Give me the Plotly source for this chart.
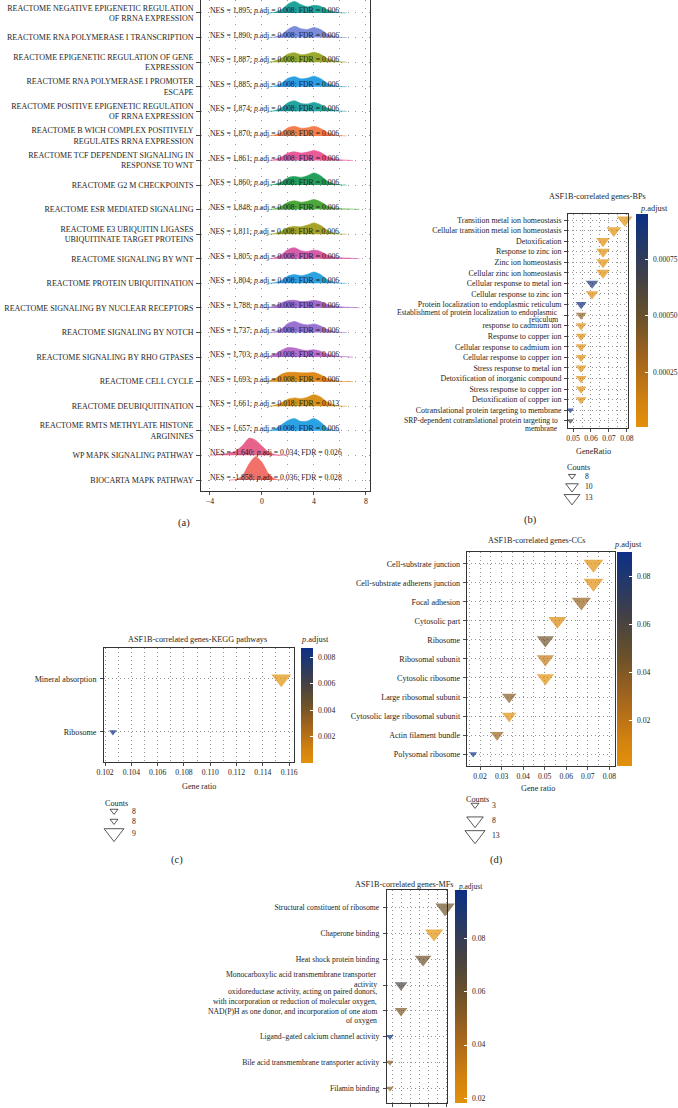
import math
import plotly.graph_objects as go

W, H = 678, 1108
FONT = "Liberation Serif"
INK = "#1e1e1e"
GRID = "#7a7a7a"
FS = 7.7


def fx(px):
    return px / W


def fy(py):
    return 1 - py / H


# ---------------- (a) GSEA ridge plot ----------------
a_terms = [
    "REACTOME NEGATIVE EPIGENETIC REGULATION<br>OF RRNA EXPRESSION",
    "REACTOME RNA POLYMERASE I TRANSCRIPTION",
    "REACTOME EPIGENETIC REGULATION OF GENE<br>EXPRESSION",
    "REACTOME RNA POLYMERASE I PROMOTER<br>ESCAPE",
    "REACTOME POSITIVE EPIGENETIC REGULATION<br>OF RRNA EXPRESSION",
    "REACTOME B WICH COMPLEX POSITIVELY<br>REGULATES RRNA EXPRESSION",
    "REACTOME TCF DEPENDENT SIGNALING IN<br>RESPONSE TO WNT",
    "REACTOME G2 M CHECKPOINTS",
    "REACTOME ESR MEDIATED SIGNALING",
    "REACTOME E3 UBIQUITIN LIGASES<br>UBIQUITINATE TARGET PROTEINS",
    "REACTOME SIGNALING BY WNT",
    "REACTOME PROTEIN UBIQUITINATION",
    "REACTOME SIGNALING BY NUCLEAR RECEPTORS",
    "REACTOME SIGNALING BY NOTCH",
    "REACTOME SIGNALING BY RHO GTPASES",
    "REACTOME CELL CYCLE",
    "REACTOME DEUBIQUITINATION",
    "REACTOME RMTS METHYLATE HISTONE<br>ARGININES",
    "WP MAPK SIGNALING PATHWAY",
    "BIOCARTA MAPK PATHWAY",
]
a_nes = ["1,895", "1,890", "1,887", "1,885", "1,874", "1,870", "1,861", "1,860",
         "1,848", "1,811", "1,805", "1,804", "1,788", "1,737", "1,703", "1,693",
         "1,661", "1,657", "-1.640", "-1.858"]
a_padj = ["0.008"] * 16 + ["0.018", "0.008", "0.034", "0.036"]
a_fdr = ["0.006"] * 16 + ["0.013", "0.006", "0.026", "0.028"]
a_colors = ["#1FA39B", "#7C8CD8", "#9BAA2E", "#2C9FE3", "#22A59E", "#F47F4C",
            "#EA5B9A", "#22A05C", "#4CA83A", "#A7A228", "#D65CA8", "#2DA2E0",
            "#A26BCB", "#9A72D0", "#B86CCB", "#E08A1C", "#D8921C", "#2BA3E2",
            "#E8638C", "#F1716A"]
a_grid = [-4.0, -3.5, -3.0, -2.5, -2.0, -1.5, -1.0, -0.5, 0.0, 0.5, 1.0, 1.5,
          2.0, 2.5, 3.0, 3.5, 4.0, 4.5, 5.0, 5.5, 6.0, 6.5, 7.0, 7.5]
Z9 = [0] * 9
a_heights = [
    Z9 + [0, 0.03, 0.14, 0.36, 0.47, 0.34, 0.25, 0.31, 0.27, 0.14, 0.05, 0.01, 0, 0, 0],
    Z9 + [0, 0.02, 0.12, 0.33, 0.46, 0.36, 0.33, 0.41, 0.33, 0.16, 0.05, 0.01, 0, 0, 0],
    Z9 + [0, 0.05, 0.16, 0.33, 0.38, 0.30, 0.33, 0.40, 0.32, 0.16, 0.06, 0.02, 0, 0, 0],
    Z9 + [0, 0.03, 0.14, 0.34, 0.41, 0.32, 0.35, 0.43, 0.33, 0.15, 0.05, 0.01, 0, 0, 0],
    Z9 + [0, 0.03, 0.14, 0.35, 0.43, 0.32, 0.30, 0.36, 0.28, 0.14, 0.05, 0.01, 0, 0, 0],
    Z9 + [0, 0.04, 0.15, 0.33, 0.39, 0.31, 0.33, 0.39, 0.30, 0.15, 0.05, 0.01, 0, 0, 0],
    Z9 + [0, 0.04, 0.14, 0.30, 0.35, 0.30, 0.34, 0.41, 0.33, 0.17, 0.07, 0.03, 0.01, 0, 0],
    Z9 + [0, 0.03, 0.12, 0.30, 0.35, 0.31, 0.38, 0.49, 0.38, 0.17, 0.05, 0.01, 0, 0, 0],
    Z9 + [0, 0.04, 0.14, 0.30, 0.36, 0.30, 0.34, 0.41, 0.32, 0.16, 0.07, 0.04, 0.03, 0.02, 0.01],
    Z9 + [0, 0.03, 0.12, 0.27, 0.31, 0.30, 0.37, 0.46, 0.36, 0.17, 0.05, 0.01, 0, 0, 0],
    Z9 + [0, 0.04, 0.17, 0.38, 0.45, 0.33, 0.30, 0.36, 0.30, 0.16, 0.07, 0.04, 0.03, 0.02, 0],
    Z9 + [0, 0.03, 0.12, 0.30, 0.36, 0.31, 0.37, 0.46, 0.36, 0.16, 0.05, 0.01, 0, 0, 0],
    Z9 + [0.02, 0.08, 0.20, 0.30, 0.31, 0.26, 0.27, 0.31, 0.26, 0.15, 0.08, 0.05, 0.03, 0.02, 0.01],
    Z9 + [0, 0.03, 0.15, 0.37, 0.45, 0.36, 0.31, 0.35, 0.27, 0.13, 0.04, 0.01, 0, 0, 0],
    Z9 + [0.03, 0.12, 0.28, 0.39, 0.37, 0.30, 0.27, 0.30, 0.24, 0.13, 0.06, 0.02, 0.01, 0, 0],
    Z9 + [0.03, 0.12, 0.30, 0.38, 0.38, 0.36, 0.36, 0.37, 0.28, 0.14, 0.06, 0.02, 0.01, 0, 0],
    Z9 + [0, 0.04, 0.14, 0.29, 0.34, 0.31, 0.37, 0.47, 0.38, 0.18, 0.06, 0.01, 0, 0, 0],
    Z9 + [0.01, 0.08, 0.25, 0.42, 0.50, 0.38, 0.40, 0.50, 0.36, 0.12, 0.02, 0, 0, 0, 0],
    [0.01, 0.03, 0.06, 0.10, 0.19, 0.40, 0.70, 0.62, 0.38, 0.14, 0.04, 0.01] + [0] * 12,
    [0, 0, 0, 0, 0.02, 0.18, 0.65, 0.95, 0.72, 0.26, 0.04, 0] + [0] * 12,
]

# ---------------- (b) BP ----------------
b_terms = [
    "Transition metal ion homeostasis",
    "Cellular transition metal ion homeostasis",
    "Detoxification",
    "Response to zinc ion",
    "Zinc ion homeostasis",
    "Cellular zinc ion homeostasis",
    "Cellular response to metal ion",
    "Cellular response to zinc ion",
    "Protein localization to endoplasmic reticulum",
    "Establishment of protein localization to endoplasmic<br>reticulum",
    "response to cadmium ion",
    "Response to copper ion",
    "Cellular response to cadmium ion",
    "Cellular response to copper ion",
    "Stress response to metal ion",
    "Detoxification of inorganic compound",
    "Stress response to copper ion",
    "Detoxification of copper ion",
    "Cotranslational protein targeting to membrane",
    "SRP-dependent cotranslational protein targeting to<br>membrane",
]
b_ratio = [0.0788, 0.0727, 0.0667, 0.0667, 0.0667, 0.0667, 0.0606, 0.0606,
           0.0545, 0.0545, 0.0545, 0.0545, 0.0545, 0.0545, 0.0545, 0.0545,
           0.0545, 0.0545, 0.0485, 0.0485]
b_count = [13, 12, 11, 11, 11, 11, 10, 10, 9, 9, 9, 9, 9, 9, 9, 9, 9, 9, 8, 8]
b_padj = [0.00001, 0.00002, 0.00003, 0.00003, 0.00003, 0.00003, 0.00088, 0.00004,
          0.00092, 0.00037, 0.00004, 0.00004, 0.00004, 0.00004, 0.00004, 0.00004,
          0.00004, 0.00004, 0.00095, 0.00068]
b_xticks = [0.05, 0.06, 0.07, 0.08]
b_cbar_ticks = [0.00025, 0.00050, 0.00075]
b_legend_counts = [8, 10, 13]

# ---------------- (c) KEGG ----------------
c_terms = ["Mineral absorption", "Ribosome"]
c_ratio = [0.1154, 0.1026]
c_count = [9, 8]
c_padj = [0.00002, 0.0087]
c_xticks = [0.102, 0.104, 0.106, 0.108, 0.110, 0.112, 0.114, 0.116]
c_cbar_ticks = [0.002, 0.004, 0.006, 0.008]
c_legend_counts = [8, 8, 9]

# ---------------- (d) CC ----------------
d_terms = ["Cell-substrate junction", "Cell-substrate adherens junction",
           "Focal adhesion", "Cytosolic part", "Ribosome", "Ribosomal subunit",
           "Cytosolic ribosome", "Large ribosomal subunit",
           "Cytosolic large ribosomal subunit", "Actin filament bundle",
           "Polysomal ribosome"]
d_ratio = [0.0726, 0.0726, 0.0670, 0.0559, 0.0503, 0.0503, 0.0503, 0.0335,
           0.0335, 0.0279, 0.0168]
d_count = [13, 13, 12, 10, 9, 9, 9, 6, 6, 5, 3]
d_padj = [0.0030, 0.0028, 0.0330, 0.0080, 0.0450, 0.0180, 0.0012, 0.0380,
          0.0040, 0.0320, 0.0904]
d_xticks = [0.02, 0.03, 0.04, 0.05, 0.06, 0.07, 0.08]
d_cbar_ticks = [0.02, 0.04, 0.06, 0.08]
d_legend_counts = [3, 8, 13]

# ---------------- (e) MF ----------------
e_terms = [
    "Structural constituent of ribosome",
    "Chaperone binding",
    "Heat shock protein binding",
    "Monocarboxylic acid transmembrane transporter<br>activity",
    "oxidoreductase activity, acting on paired donors,<br>with incorporation or reduction of molecular oxygen,<br>NAD(P)H as one donor, and incorporation of one atom<br>of oxygen",
    "Ligand\u2013gated calcium channel activity",
    "Bile acid transmembrane transporter activity",
    "Filamin binding",
]
e_ratio = [0.0988, 0.0864, 0.0741, 0.0494, 0.0494, 0.0370, 0.0370, 0.0370]
e_count = [8, 7, 6, 4, 4, 3, 3, 3]
e_padj = [0.0580, 0.0184, 0.0590, 0.0710, 0.0540, 0.0981, 0.0500, 0.0490]
e_xticks = [0.04, 0.06, 0.08, 0.10]
e_cbar_ticks = [0.02, 0.04, 0.06, 0.08]

PADJ_SCALE = [
    [0.0, "#E3910A"], [0.12, "#D2820F"], [0.25, "#B46E18"], [0.38, "#925E21"],
    [0.5, "#6E5229"], [0.6, "#574A35"], [0.7, "#434046"], [0.8, "#2F3B5C"],
    [0.9, "#1D3672"], [1.0, "#0C2F86"],
]


def size_from(c, cmin, cmax, wmin, wmax):
    t = 0 if cmax == cmin else (c - cmin) / (cmax - cmin)
    return (wmin + (wmax - wmin) * math.sqrt(max(t, 0))) / 1.02


def size_b(c):
    return size_from(c, 8, 13, 6.3, 14.0)


def size_c(c):
    return size_from(c, 8, 9, 7.0, 17.5)


def size_d(c):
    return size_from(c, 3, 13, 7.0, 17.7)


def size_e(c):
    return size_from(c, 3, 8, 6.7, 17.3)


fig = go.Figure()

# ridges (a)
n_a = len(a_terms)
for i, (col, hs) in enumerate(zip(a_colors, a_heights)):
    base = n_a - i
    nz = [k for k, h in enumerate(hs) if h > 0]
    k0 = max(nz[0] - 1, 0)
    k1 = min(nz[-1] + 1, len(hs) - 1)
    xs = a_grid[k0:k1 + 1]
    ys = [base + h for h in hs[k0:k1 + 1]]
    fig.add_trace(go.Scatter(
        x=xs, y=ys, mode="lines", fill="toself", fillcolor=col,
        line=dict(color=col, width=0.6, shape="spline", smoothing=0.8),
        xaxis="x", yaxis="y", hoverinfo="skip", showlegend=False))


def add_dots(ratios, counts, padj, sizefn, xa, ya, cax):
    n = len(ratios)
    fig.add_trace(go.Scatter(
        x=ratios, y=list(range(n, 0, -1)), mode="markers",
        marker=dict(symbol="triangle-down", size=[sizefn(c) for c in counts],
                    color=padj, coloraxis=cax, line=dict(width=0)),
        xaxis=xa, yaxis=ya, showlegend=False, cliponaxis=False, hoverinfo="skip"))


add_dots(b_ratio, b_count, b_padj, size_b, "x2", "y2", "coloraxis")
add_dots(c_ratio, c_count, c_padj, size_c, "x3", "y3", "coloraxis2")
add_dots(d_ratio, d_count, d_padj, size_d, "x4", "y4", "coloraxis3")
add_dots(e_ratio, e_count, e_padj, size_e, "x5", "y5", "coloraxis4")

annotations = []


def size_legend(cx, ys_px, counts, sizefn, label_x, title_xy):
    fig.add_trace(go.Scatter(
        x=[cx] * len(counts), y=ys_px, mode="markers",
        marker=dict(symbol="triangle-down-open", size=[sizefn(c) for c in counts],
                    color="#111111", line=dict(width=1, color="#111111")),
        xaxis="x6", yaxis="y6", showlegend=False, hoverinfo="skip", cliponaxis=False))
    for yy, c in zip(ys_px, counts):
        annotations.append(dict(x=fx(label_x), y=fy(yy), xref="paper", yref="paper",
                                text=str(c), showarrow=False, xanchor="left",
                                yanchor="middle", font=dict(size=FS, color=INK)))
    annotations.append(dict(x=fx(title_xy[0]), y=fy(title_xy[1]), xref="paper",
                            yref="paper", text="Counts", showarrow=False,
                            xanchor="center", yanchor="middle",
                            font=dict(size=8.2, color=INK)))


size_legend(572, [476, 486.5, 498], b_legend_counts, size_b, 583, (578, 467))
size_legend(114, [811, 821, 833], c_legend_counts, size_c, 130, (116, 803))
size_legend(475, [805, 820.5, 835], d_legend_counts, size_d, 490, (477, 799))

# NES text annotations in (a)
for i in range(n_a):
    txt = f"NES = {a_nes[i]}; <i>p</i>.adj = {a_padj[i]}; FDR = {a_fdr[i]}"
    annotations.append(dict(x=-4.12, y=n_a - i + 0.1, xref="x", yref="y", text=txt,
                            showarrow=False, xanchor="left", yanchor="middle",
                            font=dict(size=FS, color="#1a1a1a")))


def paper_text(px, py, text, size=8.2, anchor="center"):
    annotations.append(dict(x=fx(px), y=fy(py), xref="paper", yref="paper", text=text,
                            showarrow=False, xanchor=anchor, yanchor="middle",
                            font=dict(size=size, color=INK)))


paper_text(597, 197, "ASF1B-correlated genes-BPs")
paper_text(197, 639, "ASF1B-correlated genes-KEGG pathways")
paper_text(537, 540, "ASF1B-correlated genes-CCs")
paper_text(404, 884, "ASF1B-correlated genes-MFs")
paper_text(638, 208, "<i>p</i>.adjust", size=8.4, anchor="left")
paper_text(298.5, 639, "<i>p</i>.adjust", size=8.4, anchor="left")
paper_text(611.5, 544, "<i>p</i>.adjust", size=8.4, anchor="left")
paper_text(456, 886, "<i>p</i>.adjust", size=7.4, anchor="left")
paper_text(593, 451, "GeneRatio")
paper_text(199, 786, "Gene ratio")
paper_text(538, 788, "Gene ratio")
paper_text(184, 523, "(a)", size=10.5)
paper_text(530, 520, "(b)", size=10.5)
paper_text(177, 860, "(c)", size=10.5)
paper_text(496, 860, "(d)", size=10.5)


def multiline_labels(labels, yref, right_px, offsets, size):
    """Multi-line category labels drawn line by line (tight line spacing)."""
    n = len(labels)
    out = []
    for i, lab in enumerate(labels):
        if "<br>" in lab:
            out.append("")
            for line, off in zip(lab.split("<br>"), offsets[lab]):
                annotations.append(dict(x=fx(right_px), y=n - i, xref="paper", yref=yref,
                                        yshift=-off, text=line, showarrow=False,
                                        xanchor="right", yanchor="middle",
                                        font=dict(size=size, color=INK)))
        else:
            out.append(lab)
    return out


b_ticktext = multiline_labels(b_terms, "y2", 560, {b_terms[9]: [-2.3, 4.8],
                                                   b_terms[19]: [0.0, 8.0]}, 7.6)
e_ticktext = multiline_labels(e_terms, "y5", 378.5, {e_terms[3]: [-10.3, -1.0],
                                                     e_terms[4]: [-19.0, -9.3, 0.6, 10.0]}, FS)


def xax(dom, rng, ticks, labels, minor_vals, show_labels=True, mirror=True, dash="1px,3px"):
    return dict(domain=[fx(dom[0]), fx(dom[1])], range=rng, tickvals=ticks,
                ticktext=labels, showticklabels=show_labels,
                showline=True, linecolor=INK, linewidth=0.9, mirror=mirror,
                ticks="outside", ticklen=3, tickwidth=0.8, tickcolor=INK,
                tickfont=dict(size=FS, color=INK, family=FONT),
                showgrid=True, gridcolor=GRID, gridwidth=0.8, griddash=dash,
                minor=dict(tickvals=minor_vals, showgrid=True, gridcolor=GRID,
                           gridwidth=0.8, griddash=dash, ticks=""),
                zeroline=False, fixedrange=True)


def yax(dom, rng, labels, ticklen=3, size=FS, standoff=1, dash="1px,3px"):
    n = len(labels)
    return dict(domain=[fy(dom[1]), fy(dom[0])], range=rng,
                tickvals=list(range(n, 0, -1)), ticktext=labels,
                showline=True, linecolor=INK, linewidth=0.9, mirror=True,
                ticks="outside", ticklen=ticklen, tickwidth=0.8, tickcolor=INK,
                tickfont=dict(size=size, color=INK, family=FONT),
                ticklabelstandoff=standoff,
                showgrid=True, gridcolor=GRID, gridwidth=0.8, griddash=dash,
                zeroline=False, fixedrange=True)


def fmt(vals, nd):
    return [f"{v:.{nd}f}" for v in vals]


xa = xax((201, 370), [-4.69, 8.31], [-4, 0, 4, 8], ["\u22124", "0", "4", "8"],
         [-2, 2, 6], mirror=False, dash="1px,7px")
ya = yax((0, 491), [0.5525, 20.528], a_terms, ticklen=4, size=8.0, standoff=1,
         dash="1px,6px")
ya["domain"] = [fy(491), 1.0]

layout = dict(
    width=W, height=H, margin=dict(l=0, r=0, t=0, b=0, autoexpand=False),
    paper_bgcolor="white", plot_bgcolor="rgba(0,0,0,0)",
    font=dict(family=FONT, size=FS, color=INK),
    showlegend=False,
    xaxis=dict(xa, anchor="y"),
    yaxis=dict(ya, anchor="x"),
    xaxis2=dict(xax((568, 628), [0.0472, 0.0806], b_xticks, fmt(b_xticks, 2),
                    [0.055, 0.065, 0.075]), anchor="y2"),
    yaxis2=dict(yax((214, 428), [0.309, 20.568], b_ticktext, size=7.9, standoff=1),
                anchor="x2"),
    xaxis3=dict(xax((104, 294), [0.10192, 0.11637], c_xticks, fmt(c_xticks, 3),
                    [0.103, 0.105, 0.107, 0.109, 0.111, 0.113, 0.115]), anchor="y3"),
    yaxis3=dict(yax((648, 762), [0.437, 2.576], c_terms, size=8.1, standoff=2),
                anchor="x3"),
    xaxis4=dict(xax((466.7, 615), [0.0138, 0.0826], d_xticks, fmt(d_xticks, 2),
                    [0.015, 0.025, 0.035, 0.045, 0.055, 0.065, 0.075]), anchor="y4"),
    yaxis4=dict(yax((551.7, 765.7), [0.384, 11.647], d_terms, size=8.1, standoff=1),
                anchor="x4"),
    xaxis5=dict(xax((386.7, 447.3), [0.0333, 0.1013], e_xticks, fmt(e_xticks, 2),
                    [0.05, 0.07, 0.09], show_labels=False), anchor="y5"),
    yaxis5=dict(yax((890, 1102.7), [0.442, 8.686], e_ticktext, standoff=2), anchor="x5"),
    xaxis6=dict(domain=[0, 1], range=[0, W], visible=False, fixedrange=True, anchor="y6"),
    yaxis6=dict(domain=[0, 1], range=[H, 0], visible=False, fixedrange=True, anchor="x6"),
)


def cbar_axis(values, left, top, bottom, thick, ticks, texts, size=FS):
    cmin, cmax = min(values), max(values)
    for v, t in zip(ticks, texts):
        ypx = top + (cmax - v) / (cmax - cmin) * (bottom - top)
        annotations.append(dict(x=fx(left + thick + 3), y=fy(ypx), xref="paper",
                                yref="paper", text=t, showarrow=False, xanchor="left",
                                yanchor="middle", font=dict(size=size, color=INK)))
    return dict(colorscale=PADJ_SCALE, cmin=cmin, cmax=cmax,
                colorbar=dict(x=fx(left), xanchor="left", y=fy(top), yanchor="top",
                              lenmode="pixels", len=bottom - top, thicknessmode="pixels",
                              thickness=thick, xpad=0, ypad=0, outlinewidth=0,
                              tickvals=ticks, showticklabels=False, ticks="inside",
                              ticklen=3, tickcolor="white", tickwidth=1))


layout["coloraxis"] = cbar_axis(b_padj, 636, 214, 427, 12, b_cbar_ticks,
                                fmt(b_cbar_ticks, 5), size=7.5)
layout["coloraxis2"] = cbar_axis(c_padj, 301, 648, 763, 12, c_cbar_ticks,
                                 fmt(c_cbar_ticks, 3))
layout["coloraxis3"] = cbar_axis(d_padj, 617, 551.7, 765.7, 15, d_cbar_ticks,
                                 fmt(d_cbar_ticks, 2))
layout["coloraxis4"] = cbar_axis(e_padj, 455, 890, 1102.5, 12, e_cbar_ticks,
                                 fmt(e_cbar_ticks, 2))
layout["annotations"] = annotations

fig.update_layout(**layout)
fig.write_html(
    "out.html",
    config={"displayModeBar": False, "staticPlot": True},
    post_script="document.body.style.margin='0px';document.body.style.padding='0px';"
                "document.body.style.overflow='hidden';",
)
